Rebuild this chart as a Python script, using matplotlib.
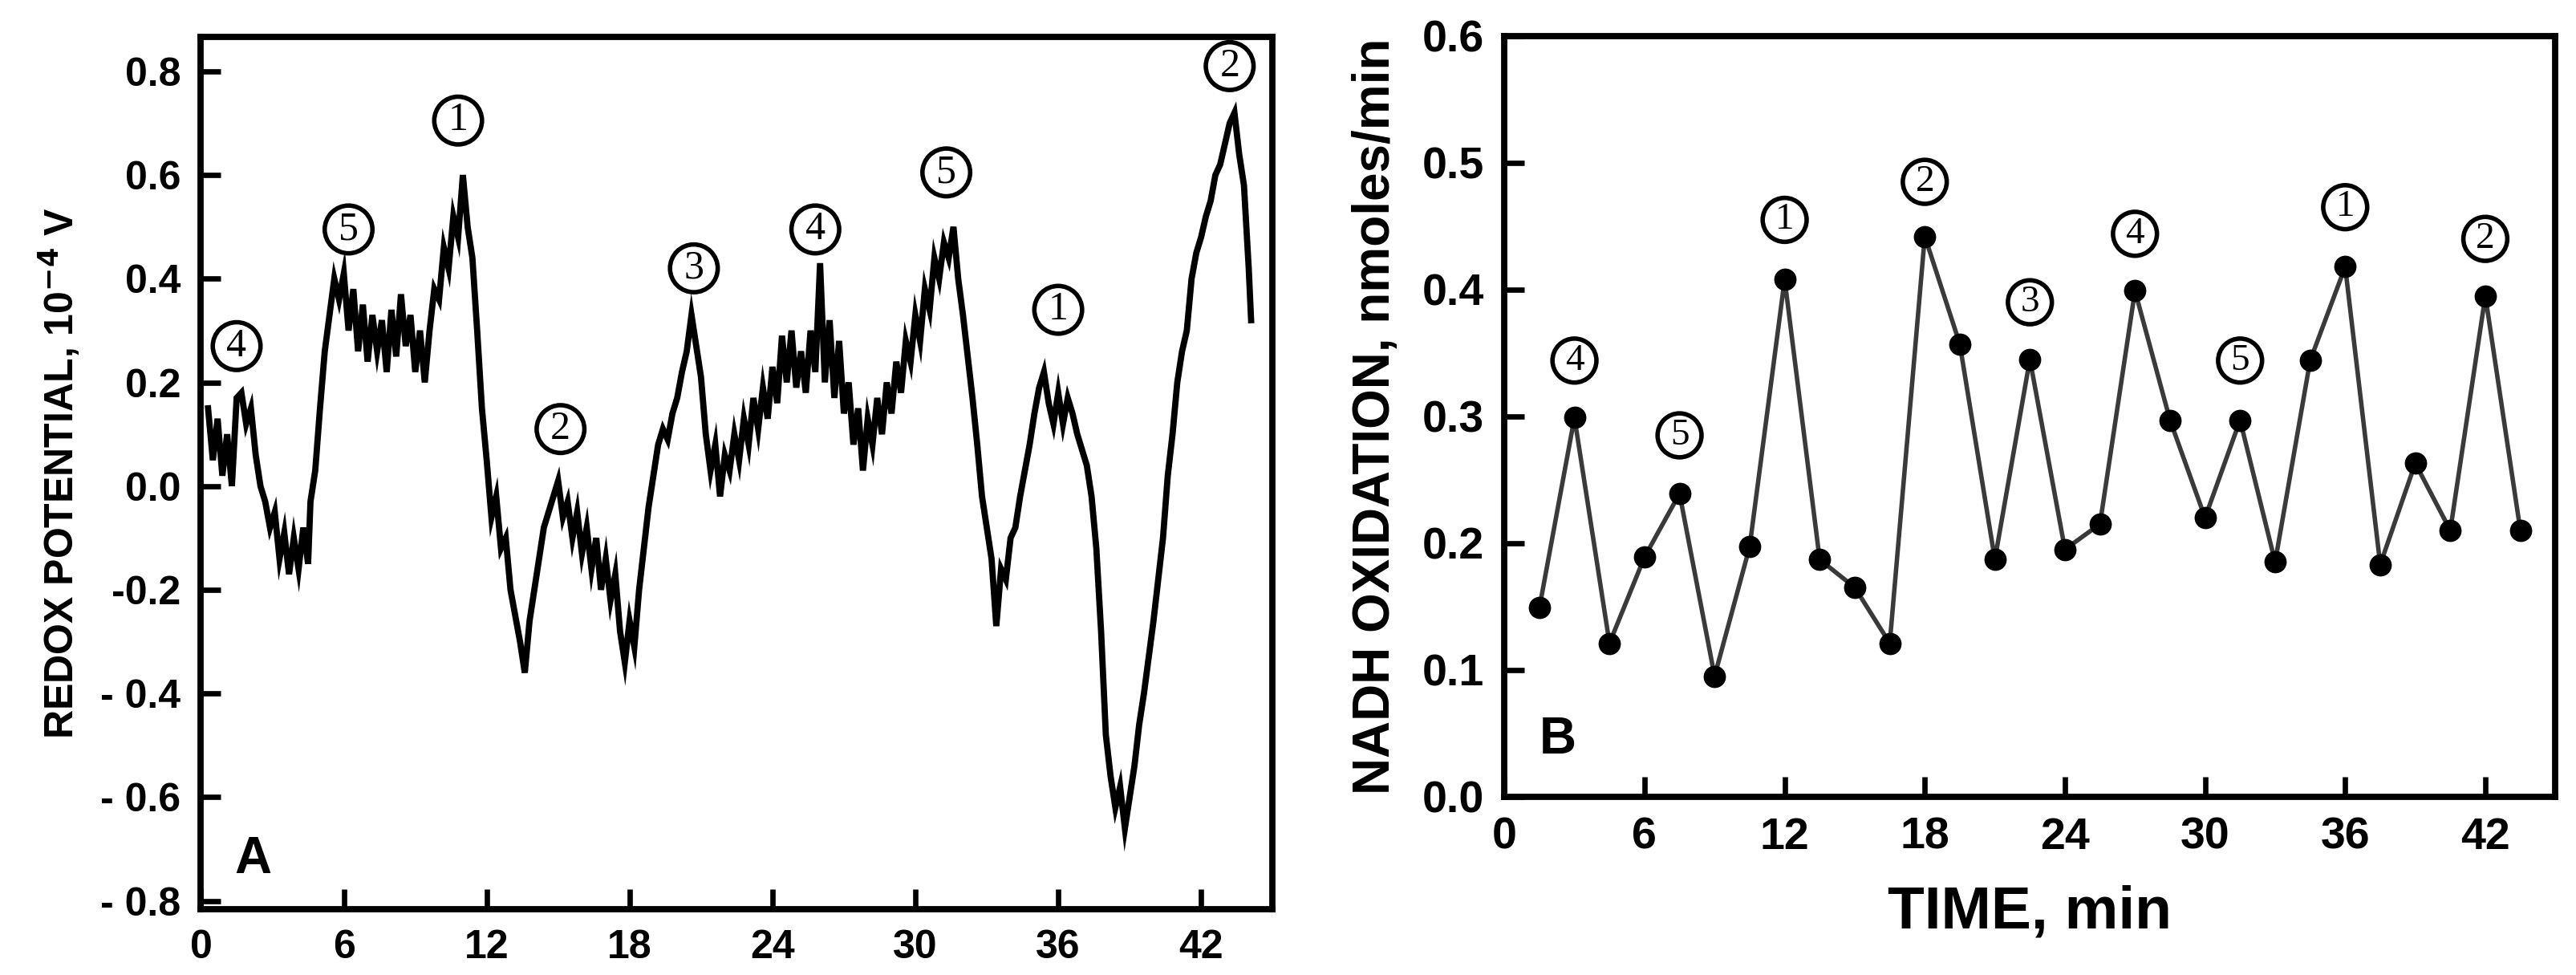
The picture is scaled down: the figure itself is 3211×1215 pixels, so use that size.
import matplotlib
matplotlib.use("Agg")
import matplotlib.pyplot as plt

# Panel A: redox potential trace
redox_time = [
    0.3, 0.5, 0.7, 0.9, 1.1, 1.3, 1.5, 1.7, 1.9, 2.1, 2.3, 2.5,
    2.7, 2.9, 3.1, 3.3, 3.5, 3.7, 3.9, 4.1, 4.3, 4.5, 4.6, 4.8, 5.0, 5.2, 5.4,
    5.6, 5.8, 6.0, 6.2, 6.4, 6.6, 6.8, 7.0, 7.2, 7.4, 7.6, 7.8, 8.0, 8.2, 8.4,
    8.6, 8.8, 9.0, 9.2, 9.4, 9.6, 9.8, 10.0, 10.2, 10.4, 10.6, 10.8, 11.0, 11.1,
    11.2, 11.4, 11.6, 11.8, 12.0, 12.2, 12.4, 12.6, 12.8, 13.0, 13.2, 13.4, 13.6,
    13.8, 14.0, 14.2, 14.4, 14.6, 14.8, 15.0, 15.2, 15.4, 15.6, 15.8, 16.0, 16.2,
    16.4, 16.6, 16.8, 17.0, 17.2, 17.4, 17.6, 17.8, 18.0, 18.2, 18.4, 18.6, 18.8,
    19.0, 19.2, 19.4, 19.6, 19.8, 20.0, 20.2, 20.4, 20.6, 20.8, 21.0, 21.2, 21.4,
    21.6, 21.8, 22.0, 22.2, 22.4, 22.6, 22.8, 23.0, 23.2, 23.4, 23.6, 23.8, 24.0,
    24.2, 24.4, 24.6, 24.8, 25.0, 25.2, 25.4, 25.6, 25.8, 26.0, 26.2, 26.4, 26.6,
    26.8, 27.0, 27.2, 27.4, 27.6, 27.8, 28.0, 28.2, 28.4, 28.6, 28.8, 29.0, 29.2,
    29.4, 29.6, 29.8, 30.0, 30.2, 30.4, 30.6, 30.8, 31.0, 31.2, 31.4, 31.6, 31.8,
    32.0, 32.2, 32.4, 32.6, 32.8, 33.0, 33.2, 33.4, 33.6, 33.8, 34.0, 34.2, 34.4,
    34.6, 34.8, 35.0, 35.2, 35.4, 35.6, 35.8, 36.0, 36.2, 36.4, 36.6, 36.8, 37.0,
    37.2, 37.4, 37.6, 37.8, 38.0, 38.2, 38.4, 38.6, 38.8, 39.0, 39.2, 39.4, 39.6,
    39.8, 40.0, 40.2, 40.4, 40.6, 40.8, 41.0, 41.2, 41.4, 41.6, 41.8, 42.0, 42.2,
    42.4, 42.6, 42.8, 43.0, 43.2, 43.4, 43.6, 43.8, 44.0, 44.1,
]
redox_value = [
    0.15, 0.05, 0.13, 0.02, 0.10, 0.00, 0.17, 0.18, 0.12, 0.15, 0.06, 0.00,
    -0.03, -0.08, -0.05, -0.14, -0.09, -0.17, -0.10, -0.16, -0.08, -0.15, -0.03, 0.03, 0.15, 0.26, 0.33,
    0.40, 0.36, 0.41, 0.30, 0.38, 0.26, 0.35, 0.24, 0.33, 0.26, 0.32, 0.22, 0.34, 0.25, 0.37,
    0.27, 0.33, 0.22, 0.30, 0.20, 0.30, 0.38, 0.36, 0.46, 0.42, 0.52, 0.48, 0.60, 0.55,
    0.50, 0.44, 0.30, 0.15, 0.05, -0.06, -0.02, -0.12, -0.10, -0.20, -0.25, -0.30, -0.36,
    -0.26, -0.20, -0.14, -0.08, -0.05, -0.02, 0.01, -0.06, -0.03, -0.10, -0.05, -0.13, -0.08,
    -0.16, -0.10, -0.20, -0.14, -0.22, -0.17, -0.28, -0.34, -0.26, -0.31, -0.20, -0.12, -0.04,
    0.02, 0.08, 0.11, 0.09, 0.14, 0.17, 0.22, 0.26, 0.33, 0.27, 0.21, 0.10, 0.03,
    0.08, -0.02, 0.06, 0.03, 0.10, 0.05, 0.13, 0.08, 0.17, 0.11, 0.19, 0.13, 0.23,
    0.16, 0.29, 0.20, 0.30, 0.19, 0.26, 0.18, 0.30, 0.22, 0.43, 0.20, 0.32, 0.17,
    0.28, 0.14, 0.20, 0.08, 0.15, 0.03, 0.13, 0.08, 0.17, 0.10, 0.20, 0.14, 0.24,
    0.18, 0.28, 0.24, 0.33, 0.28, 0.38, 0.34, 0.44, 0.40, 0.47, 0.44, 0.50, 0.40,
    0.33, 0.25, 0.17, 0.08, -0.02, -0.08, -0.14, -0.27, -0.16, -0.18, -0.10, -0.08, -0.02,
    0.03, 0.08, 0.14, 0.19, 0.22, 0.16, 0.12, 0.18, 0.12, 0.17, 0.14, 0.10, 0.07,
    0.04, -0.02, -0.12, -0.28, -0.48, -0.56, -0.62, -0.58, -0.66, -0.60, -0.54, -0.46, -0.40,
    -0.33, -0.26, -0.18, -0.10, 0.02, 0.10, 0.20, 0.26, 0.30, 0.40, 0.45, 0.48, 0.52,
    0.55, 0.60, 0.62, 0.66, 0.70, 0.72, 0.64, 0.58, 0.42, 0.32,
]
redox_marks = ["4", "5", "1", "2", "3", "4", "5", "1", "2"]
redox_mark_time = [1.5, 6.2, 10.8, 15.1, 20.7, 25.8, 31.3, 36.0, 43.2]
redox_mark_value = [0.27, 0.495, 0.705, 0.11, 0.42, 0.495, 0.605, 0.34, 0.81]

# Panel B: NADH oxidation
nadh_time = [1.5, 3, 4.5, 6, 7.5, 9, 10.5, 12, 13.5, 15, 16.5, 18, 19.5, 21, 22.5,
             24, 25.5, 27, 28.5, 30, 31.5, 33, 34.5, 36, 37.5, 39, 40.5, 42, 43.5]
nadh_rate = [0.149, 0.299, 0.121, 0.189, 0.239, 0.095, 0.197, 0.408, 0.187, 0.165,
             0.121, 0.442, 0.357, 0.187, 0.345, 0.195, 0.215, 0.399, 0.297, 0.220,
             0.297, 0.185, 0.344, 0.418, 0.183, 0.263, 0.210, 0.395, 0.210]
nadh_marks = ["4", "5", "1", "2", "3", "4", "5", "1", "2"]
nadh_mark_time = [3, 7.5, 12, 18, 22.5, 27, 31.5, 36, 42]
nadh_mark_value = [0.344, 0.285, 0.455, 0.485, 0.39, 0.444, 0.344, 0.465, 0.44]

time_ticks = [0, 6, 12, 18, 24, 30, 36, 42]
redox_ticks = [0.8, 0.6, 0.4, 0.2, 0.0, -0.2, -0.4, -0.6, -0.8]
redox_tick_labels = ["0.8", "0.6", "0.4", "0.2", "0.0", "-0.2", "- 0.4", "- 0.6", "- 0.8"]
nadh_ticks = [0.0, 0.1, 0.2, 0.3, 0.4, 0.5, 0.6]

SANS = ["Liberation Sans", "DejaVu Sans"]
SERIF = ["Liberation Serif", "DejaVu Serif"]


def style_axes(ax, size):
    for side in ("left", "right", "top", "bottom"):
        ax.spines[side].set_linewidth(2.8)
    ax.tick_params(direction="in", length=9, width=2.4, top=False, right=False,
                   labelsize=size, pad=9)
    for lab in ax.get_xticklabels() + ax.get_yticklabels():
        lab.set_fontweight("bold")
        lab.set_family(SANS)


def circled(ax, x, y, s, size):
    ax.text(x, y, s, ha="center", va="center", fontsize=size, family=SERIF,
            bbox=dict(boxstyle="circle,pad=0.13", fc="white", ec="black", lw=2.0))


fig = plt.figure(figsize=(16.055, 6.075), dpi=200)

axA = fig.add_axes([0.078, 0.0675, 0.416, 0.895])
axA.plot(redox_time, redox_value, color="black", lw=2.8, solid_joinstyle="miter")
axA.set_xlim(0, 45)
axA.set_ylim(-0.816, 0.867)
axA.set_xticks(time_ticks)
axA.set_yticks(redox_ticks)
axA.set_yticklabels(redox_tick_labels)
style_axes(axA, 18)
axA.set_ylabel("REDOX POTENTIAL, 10$^{\\mathbf{-4}}$ V", fontsize=18, fontweight="bold",
               family=SANS, labelpad=8)
axA.text(2.2, -0.72, "A", fontsize=23, fontweight="bold", family=SANS,
         ha="center", va="center")
for s, x, y in zip(redox_marks, redox_mark_time, redox_mark_value):
    circled(axA, x, y, s, 18)

axB = fig.add_axes([0.584, 0.183, 0.408, 0.78])
axB.plot(nadh_time, nadh_rate, color="#3a3a3a", lw=2.0, marker="o", ms=9,
         mfc="black", mec="black")
axB.set_xlim(0, 45)
axB.set_ylim(0, 0.6)
axB.set_xticks(time_ticks)
axB.set_yticks(nadh_ticks)
style_axes(axB, 20)
axB.set_ylabel("NADH OXIDATION, nmoles/min", fontsize=23, fontweight="bold",
               family=SANS, labelpad=10)
axB.set_xlabel("TIME, min", fontsize=27, fontweight="bold", family=SANS, labelpad=12)
axB.text(2.3, 0.045, "B", fontsize=23, fontweight="bold", family=SANS,
         ha="center", va="center")
for s, x, y in zip(nadh_marks, nadh_mark_time, nadh_mark_value):
    circled(axB, x, y, s, 17)

fig.savefig("out.png", dpi=200)
